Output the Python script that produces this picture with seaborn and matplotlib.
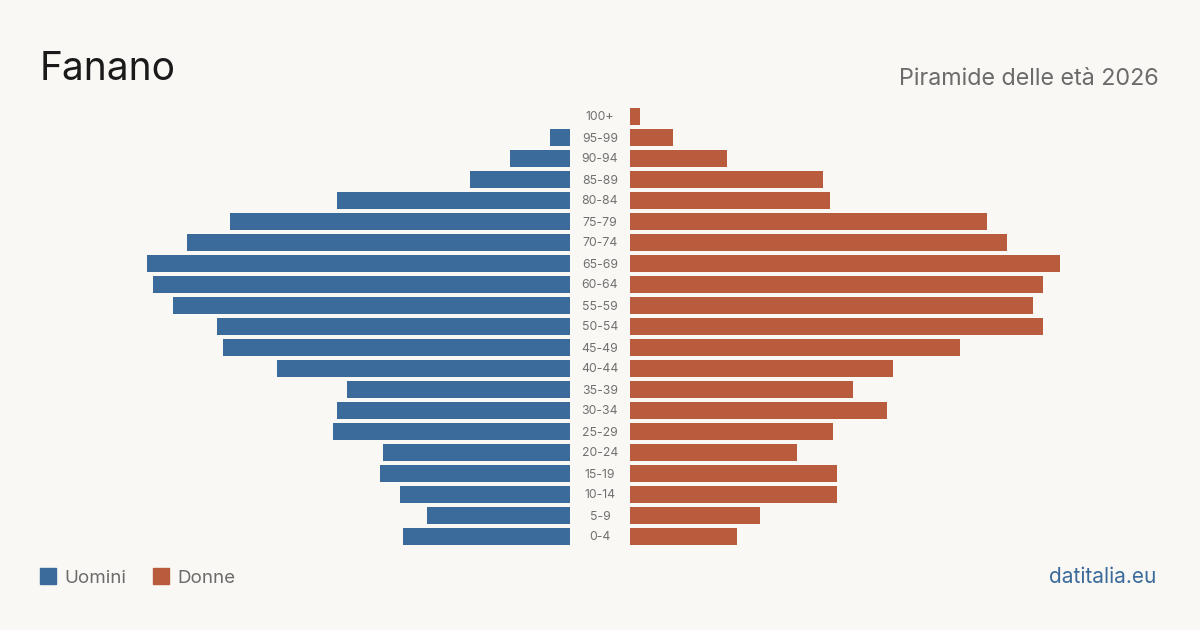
import matplotlib
matplotlib.use('Agg')
import matplotlib.pyplot as plt
import seaborn as sns
import pandas as pd
from matplotlib.patches import Rectangle

#%% data
ages = ['100+', '95-99', '90-94', '85-89', '80-84', '75-79', '70-74', '65-69',
        '60-64', '55-59', '50-54', '45-49', '40-44', '35-39', '30-34', '25-29',
        '20-24', '15-19', '10-14', '5-9', '0-4']
uomini = [0, 6, 18, 30, 70, 102, 115, 127, 125, 119, 106, 104, 88, 67, 70, 71,
          56, 57, 51, 43, 50]
donne = [3, 13, 29, 58, 60, 107, 113, 129, 124, 121, 124, 99, 79, 67, 77, 61,
         50, 62, 62, 39, 32]

df = pd.DataFrame({'age': ages, 'uomini': uomini, 'donne': donne})

#%% style
bg = '#f9f8f4'
c_men = '#3b6b9b'
c_women = '#b95c3d'
sns.set_theme(style='white')
plt.rcParams['font.family'] = ['Inter', 'DejaVu Sans']

fig = plt.figure(figsize=(12, 6.3), dpi=100, facecolor=bg)

W, H = 1200, 630
top, bot = 106, 547
xmax = 570 / 3.333

ax_l = fig.add_axes([0, 1 - bot / H, 570 / W, (bot - top) / H])
ax_r = fig.add_axes([630 / W, 1 - bot / H, 570 / W, (bot - top) / H])

sns.barplot(data=df, x='uomini', y='age', color=c_men, width=0.81,
            linewidth=0, saturation=1, ax=ax_l)
sns.barplot(data=df, x='donne', y='age', color=c_women, width=0.81,
            linewidth=0, saturation=1, ax=ax_r)

ax_l.set_xlim(xmax, 0)
ax_r.set_xlim(0, xmax)
for ax in (ax_l, ax_r):
    ax.set_ylim(len(ages) - 0.5, -0.5)
    ax.set_facecolor('none')
    ax.axis('off')

# age labels in the gap
for i, a in enumerate(ages):
    y = top + (i + 0.5) * (bot - top) / len(ages) + 1
    fig.text(600 / W, 1 - y / H, a, ha='center', va='center',
             fontsize=8.8, color='#707070')

#%% texts
fig.text(40 / W, 1 - 80 / H, 'Fanano', fontsize=28, color='#1a1a1a',
         ha='left', va='baseline')
fig.text(1159 / W, 1 - 85 / H, 'Piramide delle età 2026', fontsize=16.8,
         color='#6b6b6b', ha='right', va='baseline')

# legend
fig.patches.append(Rectangle((40 / W, 1 - 584 / H), 16 / W, 16 / H,
                             transform=fig.transFigure, color=c_men))
fig.text(64 / W, 1 - 583 / H, 'Uomini', fontsize=13.5, color='#6b6b6b',
         ha='left', va='baseline')
fig.patches.append(Rectangle((153 / W, 1 - 584 / H), 16 / W, 16 / H,
                             transform=fig.transFigure, color=c_women))
fig.text(177 / W, 1 - 583 / H, 'Donne', fontsize=13.5, color='#6b6b6b',
         ha='left', va='baseline')

fig.text(1156 / W, 1 - 583 / H, 'datitalia.eu', fontsize=15, color=c_men,
         ha='right', va='baseline')

fig.savefig('out.png', dpi=100, facecolor=bg)
